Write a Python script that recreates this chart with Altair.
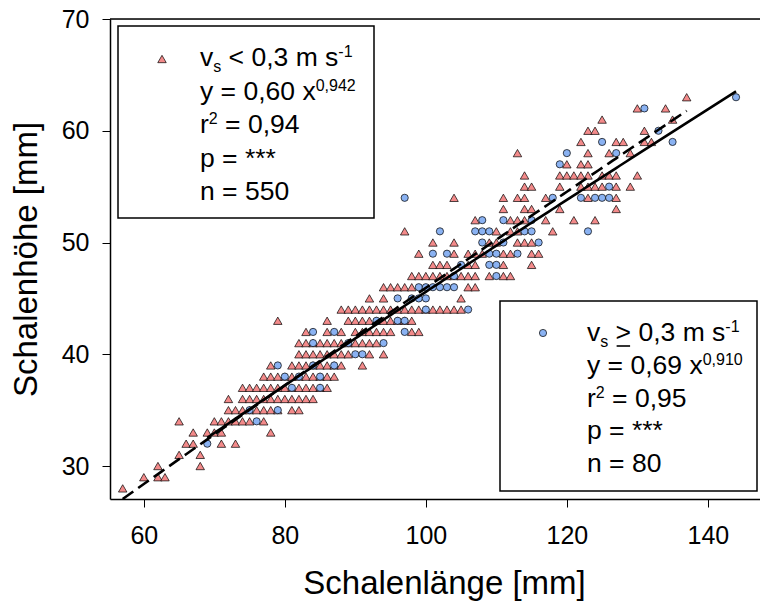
import altair as alt
import pandas as pd

# ---------------- data ----------------
# Schalenhöhe (y, mm) -> list of Schalenlänge (x, mm), v_s < 0,3 m/s (triangles)
tri_rows = {
    28: [57],
    29: [60, 62, 63],
    30: [62, 68],
    31: [65, 68],
    32: [66, 67, 71, 73],
    33: [67, 69, 70, 71, 78],
    34: [65, 70, 71, 72, 73, 74, 75, 77],
    35: [72, 73, 74, 75, 76, 77, 78, 79, 81, 82],
    36: [72, 74, 75, 76, 77, 78, 79, 80, 81, 82, 83, 84],
    37: [74, 75, 76, 77, 78, 79, 80, 81, 82, 83, 84, 85, 86],
    38: [77, 78, 79, 80, 81, 82, 83, 84, 85, 86, 87],
    39: [78, 81, 82, 83, 84, 85, 86, 87, 88, 91],
    40: [82, 83, 84, 85, 86, 87, 88, 89, 92, 94],
    41: [82, 83, 84, 85, 86, 87, 88, 89, 90, 91, 92, 93],
    42: [83, 86, 88, 90, 91, 92, 93, 94, 95, 98, 99],
    43: [79, 86, 89, 90, 91, 92, 93, 94, 95, 96, 97, 98],
    44: [88, 89, 90, 91, 92, 93, 94, 95, 96, 97, 98, 99, 100, 101, 102, 103, 104, 105],
    45: [92, 94, 105],
    46: [94, 95, 96, 97, 98, 106, 107],
    47: [98, 99, 100, 101, 102, 103, 104, 105, 106, 107, 109, 111, 112],
    48: [101, 102, 103, 106, 107, 111, 115],
    49: [99, 104, 106, 107, 108, 111, 112, 115, 116],
    50: [101, 104, 109, 110, 113, 114, 115],
    51: [97, 110, 112, 113, 118],
    52: [107, 112, 113, 114, 117, 121, 124],
    53: [111, 114, 115, 119, 127],
    54: [104, 111, 113, 114, 117, 123, 127],
    55: [114, 115, 119, 122, 123, 124, 125, 127, 129],
    56: [114, 119, 120, 121, 122, 123, 125, 126, 127, 130],
    57: [120, 122, 123],
    58: [113, 123, 126, 129],
    59: [122, 127, 128, 131, 132],
    60: [123, 124, 131],
    61: [125, 135],
    62: [130, 134],
    63: [137],
}

# v_s >= 0,3 m/s (circles)
circ_rows = {
    32: [69],
    34: [76],
    35: [75, 79],
    37: [81, 85],
    38: [80, 82, 85],
    39: [79, 84, 87],
    40: [90, 91],
    41: [84, 89, 94],
    42: [84, 87, 97],
    43: [93, 96, 97],
    44: [100, 106],
    45: [96, 98, 99, 100],
    46: [99, 100, 101, 102, 103, 104],
    47: [104, 110],
    48: [105, 109, 110],
    49: [101, 103, 109, 110, 113],
    50: [108, 111, 116],
    51: [102, 107, 108, 109, 114, 115, 123],
    52: [108, 111, 115],
    54: [97, 118, 122, 124, 125, 126],
    55: [126],
    57: [119],
    58: [120, 127],
    59: [125, 135],
    60: [133],
    62: [131],
    63: [144],
}

# fitted power curves y = a * x^b (as printed in the chart) and x extents
fit_low = {"a": 0.60, "b": 0.942, "x0": 57, "x1": 137}   # dashed
fit_high = {"a": 0.69, "b": 0.910, "x0": 69, "x1": 144}  # solid

x_ticks = [60, 80, 100, 120, 140]
y_ticks = [30, 40, 50, 60, 70]

legend1 = [
    [("v", "n"), ("s", "sub"), (" < 0,3 m s", "n"), ("-1", "sup")],
    [("y = 0,60 x", "n"), ("0,942", "sup")],
    [("r", "n"), ("2", "sup"), (" = 0,94", "n")],
    [("p = ***", "n")],
    [("n = 550", "n")],
]
legend2 = [
    [("v", "n"), ("s", "sub"), (" > 0,3 m s", "n"), ("-1", "sup")],
    [("y = 0,69 x", "n"), ("0,910", "sup")],
    [("r", "n"), ("2", "sup"), (" = 0,95", "n")],
    [("p = ***", "n")],
    [("n = 80", "n")],
]

# ---------------- styling ----------------
FONT = "Liberation Sans"
TRI_FILL = "#F38A8A"
CIRC_FILL = "#8AB2F2"
W, H = 650, 480
OX, OY = 110, 19  # plot origin on the page
XDOM = [55.2, 147.4]
YDOM = [27.05, 70]

def to_df(rows):
    return pd.DataFrame([{"len": x, "hoe": y} for y, xs in rows.items() for x in xs])

tri_df = to_df(tri_rows)
circ_df = to_df(circ_rows)

x_axis = alt.Axis(values=x_ticks, tickSize=8, tickColor="black", tickWidth=1,
                  domainColor="black", domainWidth=1.5, grid=False,
                  labelFontSize=25, labelFont=FONT, labelColor="black",
                  labelBaseline="alphabetic", labelPadding=36, labelFlush=False,
                  labelOverlap=False,
                  title="Schalenlänge [mm]", titleFontSize=33, titleFont=FONT,
                  titleFontWeight="normal", titleColor="black",
                  titleX=334, titleY=94, titleAlign="center", titleBaseline="alphabetic")
y_axis = alt.Axis(values=y_ticks, tickSize=8, tickColor="black", tickWidth=1,
                  domainColor="black", domainWidth=1.5, grid=False,
                  labelFontSize=25, labelFont=FONT, labelColor="black",
                  labelBaseline="middle", labelPadding=13, labelFlush=False,
                  labelOverlap=False,
                  title="Schalenhöhe [mm]", titleFontSize=33, titleFont=FONT,
                  titleFontWeight="normal", titleColor="black",
                  titleX=-74, titleY=240, titleAngle=270, titleAlign="center",
                  titleBaseline="alphabetic")

xs = alt.Scale(domain=XDOM, nice=False, zero=False)
ys = alt.Scale(domain=YDOM, nice=False, zero=False)

tri = alt.Chart(tri_df).mark_point(shape="triangle-up", filled=True, fill=TRI_FILL,
                                   stroke="black", strokeWidth=0.7, size=72, opacity=1).encode(
    x=alt.X("len:Q", scale=xs, axis=x_axis),
    y=alt.Y("hoe:Q", scale=ys, axis=y_axis),
)
circ = alt.Chart(circ_df).mark_point(shape="circle", filled=True, fill=CIRC_FILL,
                                     stroke="black", strokeWidth=0.7, size=52, opacity=1).encode(
    x="len:Q", y="hoe:Q")

def curve(fit, dash):
    base = alt.Chart(alt.sequence(fit["x0"], fit["x1"] + 0.25, 0.5, as_="len")).transform_calculate(
        hoe=f"{fit['a']} * pow(datum.len, {fit['b']})")
    kw = dict(color="black", strokeWidth=2.6, clip=True)
    if dash:
        kw["strokeDash"] = [13, 6]
    return base.mark_line(**kw).encode(x="len:Q", y="hoe:Q")

top_line = alt.Chart(pd.DataFrame({"hoe": [70]})).mark_rule(color="black", strokeWidth=1.5).encode(
    y="hoe:Q")

one = alt.Data(values=[{}])

def box(x0, y0, x1, y1):
    return alt.Chart(one).mark_rect(fill="white", stroke="black", strokeWidth=1.5).encode(
        x=alt.value(x0 - OX), x2=alt.value(x1 - OX), y=alt.value(y0 - OY), y2=alt.value(y1 - OY))

def marker(shape, fill, size, px, py):
    return alt.Chart(one).mark_point(shape=shape, filled=True, fill=fill, stroke="black",
                                     strokeWidth=0.7, size=size, opacity=1).encode(
        x=alt.value(px - OX), y=alt.value(py - OY))

CW = {" ": 278, "<": 584, ">": 584, "=": 584, ",": 278, "m": 833, "s": 500, "v": 500,
      "y": 500, "x": 500, "r": 333, "p": 556, "n": 556, "*": 389, "-": 333}
for d in "0123456789":
    CW[d] = 556
F, S = 26.5, 16

def text_layers(lines, x0, base0, step):
    layers = []
    underline = None
    for i, segs in enumerate(lines):
        cur = x0
        base = base0 + i * step
        for txt, kind in segs:
            size = F if kind == "n" else S
            dy = 0 if kind == "n" else (6 if kind == "sub" else -9)
            # leading spaces are trimmed by the renderer: advance the cursor instead
            while txt.startswith(" "):
                cur += CW[" "] * size / 1000
                txt = txt[1:]
            layers.append(alt.Chart(one).mark_text(text=txt, fontSize=size, font=FONT, color="black",
                                                   align="left", baseline="alphabetic").encode(
                x=alt.value(cur - OX), y=alt.value(base + dy - OY)))
            if ">" in txt:
                gx = cur + sum(CW[c] for c in txt[:txt.index(">")]) * size / 1000
                underline = (gx + 1, gx + CW[">"] * size / 1000 - 1, base + 5)
            cur += sum(CW[c] for c in txt) * size / 1000
    if underline:
        ux0, ux1, uy = underline
        layers.append(alt.Chart(one).mark_rule(color="black", strokeWidth=1.6).encode(
            x=alt.value(ux0 - OX), x2=alt.value(ux1 - OX), y=alt.value(uy - OY)))
    return layers

layers = [top_line, tri, circ, curve(fit_low, True), curve(fit_high, False),
          box(118, 26, 374, 218), box(500, 301, 757, 491),
          marker("triangle-up", TRI_FILL, 72, 162, 59),
          marker("circle", CIRC_FILL, 52, 543, 333)]
layers += text_layers(legend1, 200, 66, 33.5)
layers += text_layers(legend2, 587, 341, 32.75)

chart = alt.layer(*layers).properties(
    width=W, height=H,
    autosize=alt.AutoSizeParams(type="none"),
    padding={"left": 102, "top": 11, "right": 0, "bottom": 104},
).configure_view(stroke=None).configure(background="white")

chart.save("out.html", embed_options={"renderer": "svg", "actions": False})
